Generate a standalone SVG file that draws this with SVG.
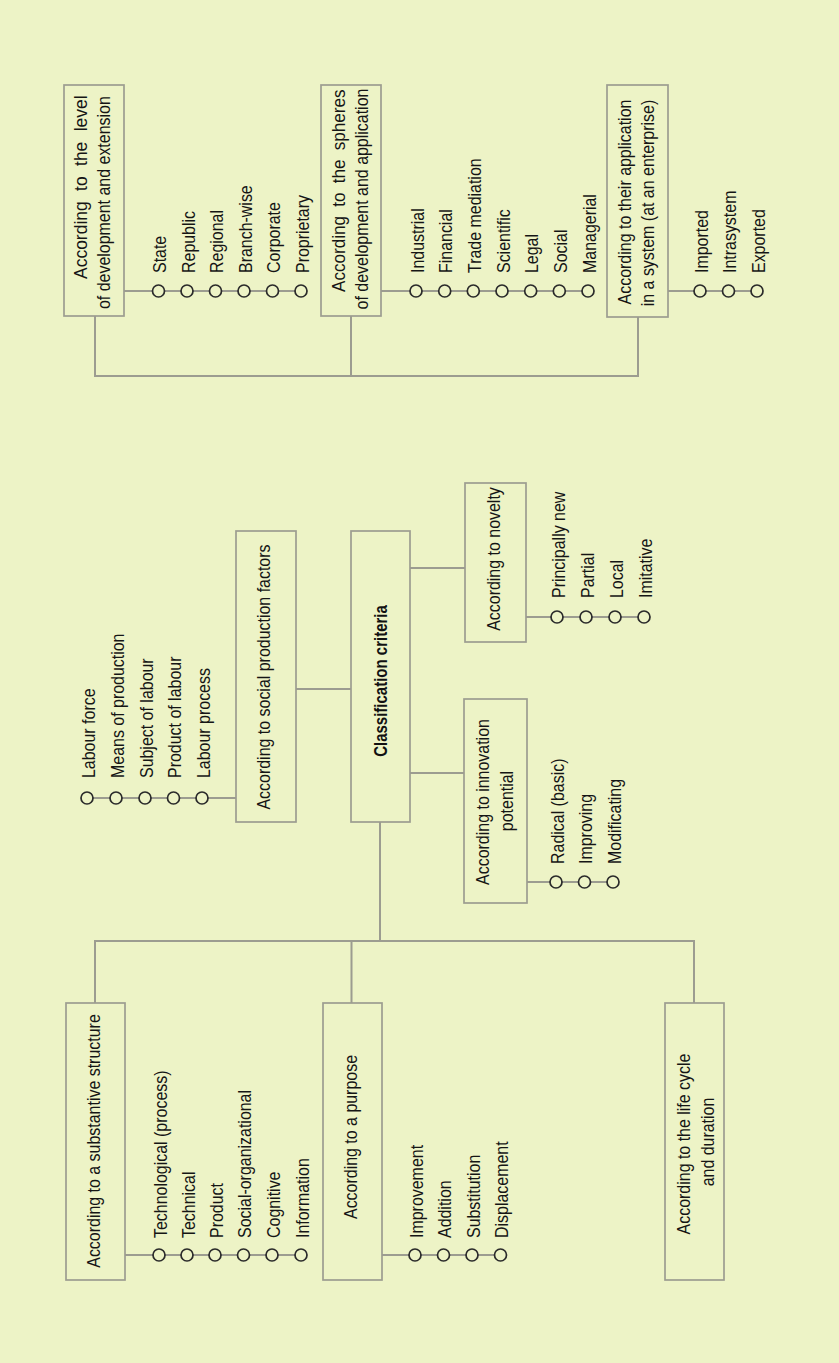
<svg xmlns="http://www.w3.org/2000/svg" width="839" height="1363" viewBox="0 0 839 1363">
<style>
.bg{fill:#edf3c6}
.box{fill:#edf3c6;stroke:#9c9c90;stroke-width:1.7}
.ln{stroke:#9c9c90;stroke-width:2;fill:none}
.dot{fill:#edf3c6;stroke:#2a2a2a;stroke-width:1.7}
.t{font-family:"Liberation Sans",Arial,sans-serif;font-size:19px;fill:#151515}
.b{font-family:"Liberation Sans",Arial,sans-serif;font-size:19px;font-weight:bold;fill:#111}
.m{text-anchor:middle}
</style>
<rect class="bg" x="0" y="0" width="839" height="1363"/>

<g id="connectors">
  <path class="ln" d="M95,316 V376 H638 V317 M351,316 V376"/>
  <path class="ln" d="M380,822 V941 M95,1003 V941 H694 V1003 M351.5,941 V1003"/>
  <path class="ln" d="M296,689 H351 M410,773 H464 M410,568 H465"/>
  <path class="ln" d="M124,291 H301 M381,291 H588 M668,291 H757 M87,798 H236 M527,882 H613 M526,617 H644 M125,1255 H301 M382,1255 H500"/>
</g>

<g id="node-level">
  <rect class="box" x="64" y="85" width="60" height="231"/>
  <text class="t" word-spacing="6" transform="translate(87,279) rotate(-90) scale(0.92,1)">According to the level</text>
  <text class="t" transform="translate(110,309) rotate(-90) scale(0.84,1)">of development and extension</text>
  <g class="items">
    <circle class="dot" cx="158.5" cy="291" r="6"/><text class="t" transform="translate(166,273) rotate(-90) scale(0.84,1)">State</text>
    <circle class="dot" cx="187" cy="291" r="6"/><text class="t" transform="translate(194.5,273) rotate(-90) scale(0.84,1)">Republic</text>
    <circle class="dot" cx="215.5" cy="291" r="6"/><text class="t" transform="translate(223,273) rotate(-90) scale(0.84,1)">Regional</text>
    <circle class="dot" cx="244" cy="291" r="6"/><text class="t" transform="translate(251.5,273) rotate(-90) scale(0.84,1)">Branch-wise</text>
    <circle class="dot" cx="272.5" cy="291" r="6"/><text class="t" transform="translate(280,273) rotate(-90) scale(0.84,1)">Corporate</text>
    <circle class="dot" cx="301" cy="291" r="6"/><text class="t" transform="translate(308.5,273) rotate(-90) scale(0.84,1)">Proprietary</text>
  </g>
</g>

<g id="node-spheres">
  <rect class="box" x="321" y="85" width="60" height="231"/>
  <text class="t" word-spacing="5" transform="translate(345,292) rotate(-90) scale(0.9,1)">According to the spheres</text>
  <text class="t m" transform="translate(368,199) rotate(-90) scale(0.84,1)">of development and application</text>
  <g class="items">
    <circle class="dot" cx="416" cy="291" r="6"/><text class="t" transform="translate(423.5,273) rotate(-90) scale(0.84,1)">Industrial</text>
    <circle class="dot" cx="444.7" cy="291" r="6"/><text class="t" transform="translate(452.2,273) rotate(-90) scale(0.84,1)">Financial</text>
    <circle class="dot" cx="473.3" cy="291" r="6"/><text class="t" transform="translate(480.8,273) rotate(-90) scale(0.84,1)">Trade mediation</text>
    <circle class="dot" cx="502" cy="291" r="6"/><text class="t" transform="translate(509.5,273) rotate(-90) scale(0.84,1)">Scientific</text>
    <circle class="dot" cx="530.7" cy="291" r="6"/><text class="t" transform="translate(538.2,273) rotate(-90) scale(0.84,1)">Legal</text>
    <circle class="dot" cx="559.3" cy="291" r="6"/><text class="t" transform="translate(566.8,273) rotate(-90) scale(0.84,1)">Social</text>
    <circle class="dot" cx="588" cy="291" r="6"/><text class="t" transform="translate(595.5,273) rotate(-90) scale(0.84,1)">Managerial</text>
  </g>
</g>

<g id="node-system">
  <rect class="box" x="607" y="85" width="61" height="232"/>
  <text class="t m" transform="translate(631,202) rotate(-90) scale(0.84,1)">According to their application</text>
  <text class="t m" transform="translate(654,203) rotate(-90) scale(0.84,1)">in a system (at an enterprise)</text>
  <g class="items">
    <circle class="dot" cx="700" cy="291" r="6"/><text class="t" transform="translate(707.5,273) rotate(-90) scale(0.84,1)">Imported</text>
    <circle class="dot" cx="728.5" cy="291" r="6"/><text class="t" transform="translate(736,273) rotate(-90) scale(0.84,1)">Intrasystem</text>
    <circle class="dot" cx="757" cy="291" r="6"/><text class="t" transform="translate(764.5,273) rotate(-90) scale(0.84,1)">Exported</text>
  </g>
</g>

<g id="node-social">
  <rect class="box" x="236" y="531" width="60" height="291"/>
  <text class="t m" transform="translate(270,677) rotate(-90) scale(0.84,1)">According to social production factors</text>
  <g class="items">
    <circle class="dot" cx="87" cy="798" r="6"/><text class="t" transform="translate(94.5,778) rotate(-90) scale(0.84,1)">Labour force</text>
    <circle class="dot" cx="116" cy="798" r="6"/><text class="t" transform="translate(123.5,778) rotate(-90) scale(0.84,1)">Means of production</text>
    <circle class="dot" cx="145" cy="798" r="6"/><text class="t" transform="translate(152.5,778) rotate(-90) scale(0.84,1)">Subject of labour</text>
    <circle class="dot" cx="173.5" cy="798" r="6"/><text class="t" transform="translate(181,778) rotate(-90) scale(0.84,1)">Product of labour</text>
    <circle class="dot" cx="202" cy="798" r="6"/><text class="t" transform="translate(209.5,778) rotate(-90) scale(0.84,1)">Labour process</text>
  </g>
</g>

<g id="node-criteria">
  <rect class="box" x="351" y="531" width="59" height="291"/>
  <text class="b m" transform="translate(387,681) rotate(-90) scale(0.79,1)">Classification criteria</text>
</g>

<g id="node-novelty">
  <rect class="box" x="465" y="483" width="61" height="159"/>
  <text class="t m" transform="translate(500,559) rotate(-90) scale(0.84,1)">According to novelty</text>
  <g class="items">
    <circle class="dot" cx="557" cy="617" r="6"/><text class="t" transform="translate(564.5,598) rotate(-90) scale(0.84,1)">Principally new</text>
    <circle class="dot" cx="586" cy="617" r="6"/><text class="t" transform="translate(593.5,598) rotate(-90) scale(0.84,1)">Partial</text>
    <circle class="dot" cx="615" cy="617" r="6"/><text class="t" transform="translate(622.5,598) rotate(-90) scale(0.84,1)">Local</text>
    <circle class="dot" cx="644" cy="617" r="6"/><text class="t" transform="translate(651.5,598) rotate(-90) scale(0.84,1)">Imitative</text>
  </g>
</g>

<g id="node-potential">
  <rect class="box" x="464" y="699" width="63" height="204"/>
  <text class="t m" transform="translate(489,802) rotate(-90) scale(0.84,1)">According to innovation</text>
  <text class="t m" transform="translate(513,801) rotate(-90) scale(0.84,1)">potential</text>
  <g class="items">
    <circle class="dot" cx="556" cy="882" r="6"/><text class="t" transform="translate(563.5,864) rotate(-90) scale(0.84,1)">Radical (basic)</text>
    <circle class="dot" cx="584.5" cy="882" r="6"/><text class="t" transform="translate(592,864) rotate(-90) scale(0.84,1)">Improving</text>
    <circle class="dot" cx="613" cy="882" r="6"/><text class="t" transform="translate(620.5,864) rotate(-90) scale(0.84,1)">Modificating</text>
  </g>
</g>

<g id="node-structure">
  <rect class="box" x="66" y="1003" width="59" height="277"/>
  <text class="t m" transform="translate(100,1141) rotate(-90) scale(0.84,1)">According to a substantive structure</text>
  <g class="items">
    <circle class="dot" cx="159" cy="1255" r="6"/><text class="t" transform="translate(166.5,1238) rotate(-90) scale(0.84,1)">Technological (process)</text>
    <circle class="dot" cx="187" cy="1255" r="6"/><text class="t" transform="translate(194.5,1238) rotate(-90) scale(0.84,1)">Technical</text>
    <circle class="dot" cx="215" cy="1255" r="6"/><text class="t" transform="translate(222.5,1238) rotate(-90) scale(0.84,1)">Product</text>
    <circle class="dot" cx="243.5" cy="1255" r="6"/><text class="t" transform="translate(251,1238) rotate(-90) scale(0.84,1)">Social-organizational</text>
    <circle class="dot" cx="272" cy="1255" r="6"/><text class="t" transform="translate(279.5,1238) rotate(-90) scale(0.84,1)">Cognitive</text>
    <circle class="dot" cx="301" cy="1255" r="6"/><text class="t" transform="translate(308.5,1238) rotate(-90) scale(0.84,1)">Information</text>
  </g>
</g>

<g id="node-purpose">
  <rect class="box" x="323" y="1003" width="59" height="277"/>
  <text class="t m" transform="translate(357,1137) rotate(-90) scale(0.84,1)">According to a purpose</text>
  <g class="items">
    <circle class="dot" cx="415" cy="1255" r="6"/><text class="t" transform="translate(422.5,1238) rotate(-90) scale(0.84,1)">Improvement</text>
    <circle class="dot" cx="443.5" cy="1255" r="6"/><text class="t" transform="translate(451,1238) rotate(-90) scale(0.84,1)">Addition</text>
    <circle class="dot" cx="472" cy="1255" r="6"/><text class="t" transform="translate(479.5,1238) rotate(-90) scale(0.84,1)">Substitution</text>
    <circle class="dot" cx="500.5" cy="1255" r="6"/><text class="t" transform="translate(508,1238) rotate(-90) scale(0.84,1)">Displacement</text>
  </g>
</g>

<g id="node-lifecycle">
  <rect class="box" x="665" y="1003" width="59" height="277"/>
  <text class="t m" transform="translate(690,1144) rotate(-90) scale(0.84,1)">According to the life cycle</text>
  <text class="t m" transform="translate(713.5,1142) rotate(-90) scale(0.84,1)">and duration</text>
</g>
</svg>
